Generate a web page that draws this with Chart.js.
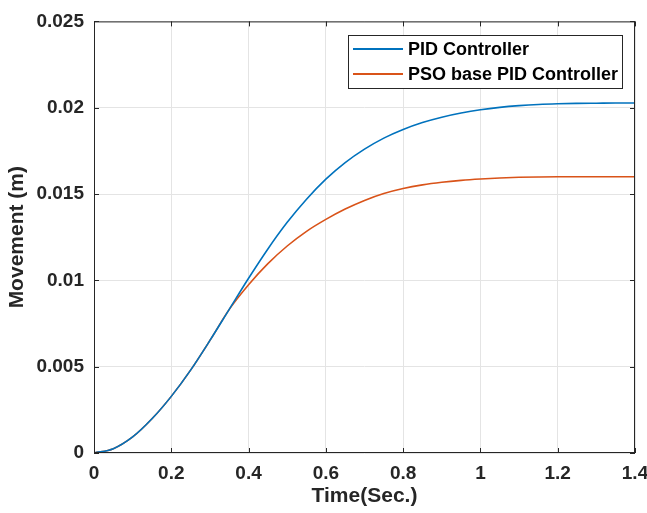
<!DOCTYPE html>
<html>
<head>
<meta charset="utf-8">
<script src="https://cdn.jsdelivr.net/npm/chart.js@4.4.1/dist/chart.umd.min.js"></script>
<style>
    html, body { margin: 0; padding: 0; background: #fff; }
    #wrap { width: 647px; height: 513px; }
</style>
</head>
<body>
<div id="wrap"><canvas id="respChart" width="647" height="513"></canvas></div>
<script>
// values
const timeSec = [0, 0.05, 0.1, 0.15, 0.2, 0.25, 0.3, 0.35, 0.4, 0.45, 0.5, 0.55, 0.6, 0.65, 0.7,
    0.75, 0.8, 0.85, 0.9, 0.95, 1.0, 1.05, 1.1, 1.15, 1.2, 1.25, 1.3, 1.35, 1.4];
const pidMovement = [0, 0.00025, 0.00093, 0.00198, 0.00328, 0.0048, 0.00652, 0.00832, 0.01012, 0.01182,
    0.01336, 0.0147, 0.01586, 0.01682, 0.0176, 0.01824, 0.01874, 0.01914, 0.01945, 0.01969, 0.01988,
    0.02002, 0.02012, 0.02019, 0.02023, 0.02025, 0.02026, 0.02027, 0.02027];
const psoMovement = [0, 0.00025, 0.00093, 0.00198, 0.00328, 0.0048, 0.00652, 0.00832, 0.00975, 0.01097,
    0.01199, 0.01284, 0.01353, 0.01413, 0.01463, 0.01503, 0.01532, 0.01553, 0.01568, 0.01579, 0.01587,
    0.01593, 0.01597, 0.01599, 0.016, 0.016, 0.016, 0.016, 0.016];
const seriesNames = ['PID Controller', 'PSO base PID Controller'];
const xTicks = [0, 0.2, 0.4, 0.6, 0.8, 1, 1.2, 1.4];
const xTickLabels = ['0', '0.2', '0.4', '0.6', '0.8', '1', '1.2', '1.4'];
const yTicks = [0, 0.005, 0.01, 0.015, 0.02, 0.025];
const yTickLabels = ['0', '0.005', '0.01', '0.015', '0.02', '0.025'];

const FONT = "'Liberation Sans', Arial, Helvetica, sans-serif";
const AXIS = '#262626';

const toPoints = (ys) => timeSec.map((t, i) => ({ x: t, y: ys[i] }));
const labelFor = (ticks, labels) => (v) => {
    const i = ticks.findIndex(t => Math.abs(t - v) < 1e-9);
    return i >= 0 ? labels[i] : '';
};

// matlab style box: frame on 4 sides + inward ticks + boxed legend
const boxPlugin = {
    id: 'matlabBox',
    afterDraw(chart) {
        const { ctx, chartArea: a, scales: { x, y } } = chart;
        ctx.save();
        ctx.strokeStyle = AXIS;
        ctx.lineWidth = 1;
        ctx.strokeRect(a.left + 0.5, a.top + 0.5, a.right - a.left - 1, a.bottom - a.top - 1);
        const tl = 5;
        ctx.beginPath();
        xTicks.forEach(v => {
            const px = Math.round(x.getPixelForValue(v)) + 0.5;
            ctx.moveTo(px, a.bottom); ctx.lineTo(px, a.bottom - tl);
            ctx.moveTo(px, a.top); ctx.lineTo(px, a.top + tl);
        });
        yTicks.forEach(v => {
            const py = Math.round(y.getPixelForValue(v)) + 0.5;
            ctx.moveTo(a.left, py); ctx.lineTo(a.left + tl, py);
            ctx.moveTo(a.right, py); ctx.lineTo(a.right - tl, py);
        });
        ctx.stroke();

        // legend
        const bx = 348, by = 35, bw = 274, bh = 53;
        ctx.fillStyle = '#fff';
        ctx.fillRect(bx, by, bw, bh);
        ctx.strokeRect(bx + 0.5, by + 0.5, bw, bh);
        ctx.font = 'bold 18px ' + FONT;
        ctx.textBaseline = 'middle';
        chart.data.datasets.forEach((ds, i) => {
            const ly = by + 14 + i * 25;
            ctx.strokeStyle = ds.borderColor;
            ctx.lineWidth = 2;
            ctx.beginPath();
            ctx.moveTo(353, ly); ctx.lineTo(403, ly);
            ctx.stroke();
            ctx.fillStyle = '#000';
            ctx.fillText(ds.label, 408, ly + 1);
        });
        ctx.restore();
    }
};

new Chart(document.getElementById('respChart'), {
    type: 'line',
    data: {
        datasets: [
            {
                label: seriesNames[0],
                data: toPoints(pidMovement),
                borderColor: '#0072BD',
                borderWidth: 1.6,
                pointRadius: 0,
                cubicInterpolationMode: 'monotone'
            },
            {
                label: seriesNames[1],
                data: toPoints(psoMovement),
                borderColor: '#D95319',
                borderWidth: 1.6,
                pointRadius: 0,
                cubicInterpolationMode: 'monotone'
            }
        ]
    },
    options: {
        responsive: false,
        animation: false,
        devicePixelRatio: 1,
        layout: { padding: { left: 0, right: 12, top: 21, bottom: 0 } },
        plugins: { legend: { display: false }, tooltip: { enabled: false } },
        scales: {
            x: {
                type: 'linear', min: 0, max: 1.4,
                afterBuildTicks: (s) => { s.ticks = xTicks.map(v => ({ value: v })); },
                afterFit: (s) => { s.height = 60; s.paddingLeft = 0; s.paddingRight = 0; },
                grid: { color: '#e4e4e4', drawTicks: false },
                border: { display: false },
                ticks: {
                    padding: 9, color: AXIS, maxRotation: 0,
                    font: { family: FONT, size: 19, weight: 'bold' },
                    callback: labelFor(xTicks, xTickLabels)
                },
                title: {
                    display: true, text: 'Time(Sec.)', color: AXIS,
                    padding: { top: 0, bottom: 4 },
                    font: { family: FONT, size: 21, weight: 'bold' }
                }
            },
            y: {
                type: 'linear', min: 0, max: 0.025,
                afterBuildTicks: (s) => { s.ticks = yTicks.map(v => ({ value: v })); },
                afterFit: (s) => { s.width = 94; },
                grid: { color: '#e4e4e4', drawTicks: false },
                border: { display: false },
                ticks: {
                    padding: 10, color: AXIS,
                    font: { family: FONT, size: 19, weight: 'bold' },
                    callback: labelFor(yTicks, yTickLabels)
                },
                title: {
                    display: true, text: 'Movement (m)', color: AXIS,
                    padding: { top: 5, bottom: 0 },
                    font: { family: FONT, size: 21, weight: 'bold' }
                }
            }
        }
    },
    plugins: [boxPlugin]
});
</script>
</body>
</html>
